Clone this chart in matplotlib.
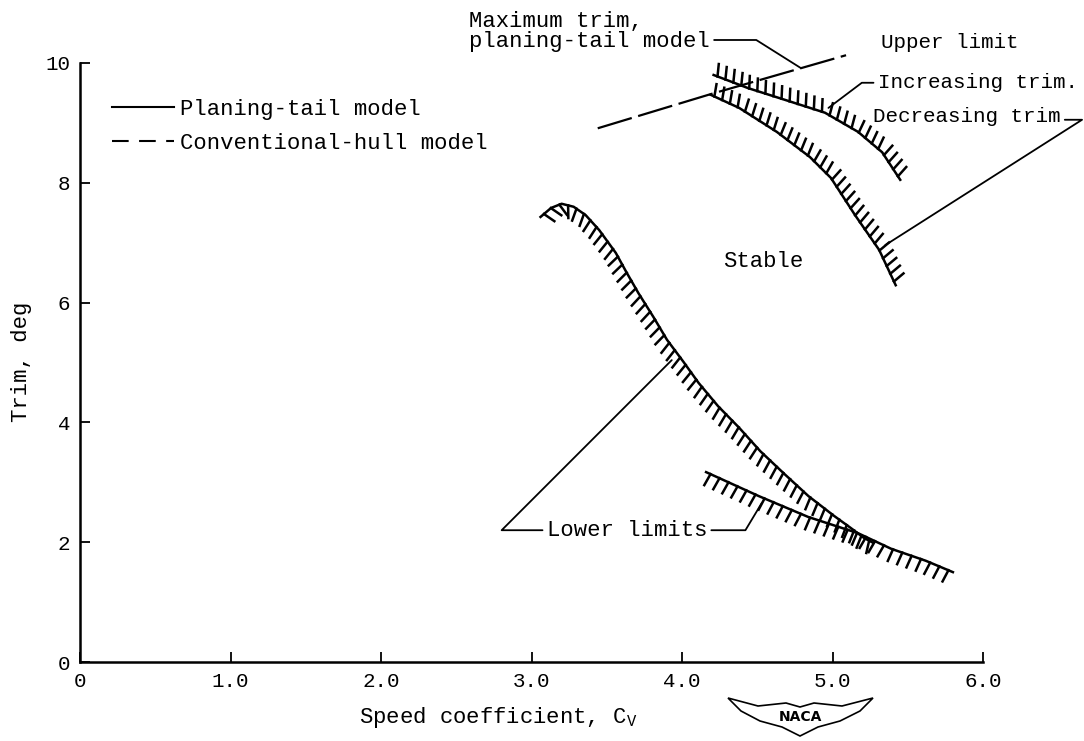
import matplotlib
matplotlib.use("Agg")
import matplotlib.pyplot as plt
from matplotlib import patheffects
from matplotlib.lines import Line2D
from matplotlib.patches import Polygon

# ---------------- data ----------------
# lower limit, upper branch
lowA_cv = [3.06, 3.13, 3.20, 3.28, 3.36, 3.45, 3.56, 3.63, 3.71, 3.81, 3.90, 4.01,
           4.11, 4.24, 4.38, 4.52, 4.68, 4.84, 5.01, 5.12, 5.21, 5.27]
lowA_trim = [7.43, 7.58, 7.65, 7.60, 7.46, 7.21, 6.83, 6.51, 6.16, 5.76, 5.38, 5.01,
             4.66, 4.27, 3.91, 3.52, 3.14, 2.77, 2.44, 2.24, 2.07, 1.99]
# lower limit, lower branch
lowB_cv = [4.16, 4.51, 4.84, 5.17, 5.39, 5.62, 5.80]
lowB_trim = [3.17, 2.77, 2.42, 2.15, 1.89, 1.69, 1.50]
# upper limit, increasing trim
inc_cv = [4.21, 4.44, 4.69, 4.95, 5.17, 5.33, 5.45]
inc_trim = [9.80, 9.58, 9.38, 9.17, 8.85, 8.51, 8.05]
# upper limit, decreasing trim
dec_cv = [4.19, 4.38, 4.63, 4.85, 4.99, 5.15, 5.31, 5.42]
dec_trim = [9.47, 9.25, 8.85, 8.43, 8.08, 7.46, 6.88, 6.29]
# maximum trim (dashed)
max_cv = [3.44, 4.19, 5.09]
max_trim = [8.91, 9.48, 10.13]

x_ticks = [0, 1, 2, 3, 4, 5, 6]
x_ticklabels = ["0", "1.0", "2.0", "3.0", "4.0", "5.0", "6.0"]
y_ticks = [0, 2, 4, 6, 8, 10]
y_ticklabels = ["0", "2", "4", "6", "8", "10"]

# ---------------- style ----------------
MONO = "Liberation Mono"
FS = 16
FS_R = 15
plt.rcParams["font.family"] = [MONO, "DejaVu Sans Mono"]
plt.rcParams["mathtext.fontset"] = "custom"
plt.rcParams["mathtext.rm"] = MONO
plt.rcParams["mathtext.it"] = MONO
plt.rcParams["font.size"] = FS

W, H = 1084, 741
fig = plt.figure(figsize=(W / 100, H / 100), dpi=100)
ax = fig.add_axes([80 / W, 1 - 662 / H, (983 - 80) / W, (662 - 63) / H])
ax.set_xlim(0, 6)
ax.set_ylim(0, 10)
for s in ("top", "right"):
    ax.spines[s].set_visible(False)
for s in ("left", "bottom"):
    ax.spines[s].set_linewidth(1.8)
ax.set_xticks(x_ticks)
ax.set_xticklabels(x_ticklabels)
ax.set_yticks(y_ticks)
ax.set_yticklabels(y_ticklabels)
ax.tick_params(direction="in", length=7.5, width=1.3, labelsize=15, pad=7)

LW = 1.8
# lower limits: hatch on lower side
ax.plot(lowA_cv, lowA_trim, color="black", lw=LW, clip_on=False,
        path_effects=[patheffects.withTickedStroke(spacing=6.5, angle=-75, length=1.4)])
ax.plot(lowB_cv, lowB_trim, color="black", lw=LW, clip_on=False,
        path_effects=[patheffects.withTickedStroke(spacing=7, angle=-95, length=1.3)])
# upper limits: hatch on upper side
ax.plot(inc_cv, inc_trim, color="black", lw=LW, clip_on=False,
        path_effects=[patheffects.withTickedStroke(spacing=6, angle=105, length=1.5)])
ax.plot(dec_cv, dec_trim, color="black", lw=LW, clip_on=False,
        path_effects=[patheffects.withTickedStroke(spacing=6, angle=105, length=1.5)])
# maximum trim, dashed
ax.plot(max_cv, max_trim, color="black", lw=1.6, linestyle=(0, (16, 3)), clip_on=False)

# legend
handles = [Line2D([], [], color="black", lw=1.5),
           Line2D([], [], color="black", lw=1.5, linestyle=(0, (8, 5)))]
ax.legend(handles, ["Planing-tail model", "Conventional-hull model"],
          loc="upper left", bbox_to_anchor=(0.035, 0.94), frameon=False,
          handlelength=2.8, handletextpad=0.3, labelspacing=0.58,
          borderpad=0, borderaxespad=0, fontsize=FS)

ap = dict(arrowstyle="-", color="black", lw=1.3, shrinkA=1, shrinkB=0)

ax.annotate("Maximum trim,\nplaning-tail model", xy=(4.79, 9.915), xytext=(2.586, 10.52),
            ha="left", va="center", linespacing=0.92, annotation_clip=False,
            arrowprops=dict(ap, relpos=(1.0, 0.3),
                            connectionstyle="angle,angleA=0,angleB=147.8,rad=0"))
ax.text(5.325, 10.35, "Upper limit", ha="left", va="center", clip_on=False, fontsize=FS_R)
ax.annotate("Increasing trim.", xy=(4.973, 9.25), xytext=(5.30, 9.67),
            ha="left", va="center", annotation_clip=False, fontsize=FS_R,
            arrowprops=dict(ap, relpos=(0.0, 0.5),
                            connectionstyle="angle,angleA=180,angleB=37,rad=0"))
ax.annotate("Decreasing trim", xy=(5.351, 6.96), xytext=(5.27, 9.10),
            ha="left", va="center", annotation_clip=False, fontsize=FS_R,
            arrowprops=dict(ap, relpos=(1.0, 0.35),
                            connectionstyle="angle,angleA=0,angleB=32.5,rad=0"))
ax.text(4.542, 6.68, "Stable", ha="center", va="center")
ax.annotate("Lower limits", xy=(3.932, 5.04), xytext=(3.634, 2.20),
            ha="center", va="center", annotation_clip=False,
            arrowprops=dict(ap, relpos=(0.0, 0.5),
                            connectionstyle="angle,angleA=180,angleB=45,rad=0"))
ax.annotate("Lower limits", xy=(4.529, 2.65), xytext=(3.634, 2.20),
            ha="center", va="center", color="none", annotation_clip=False,
            arrowprops=dict(ap, relpos=(1.0, 0.5),
                            connectionstyle="angle,angleA=0,angleB=59,rad=0"))

# axis labels
fig.text(22 / W, 1 - 362 / H, "Trim, deg", rotation=90, ha="center", va="center", fontsize=FS)
fig.text(498 / W, 1 - 717 / H, r"Speed coefficient, C$_{\mathrm{V}}$", ha="center", va="center",
         fontsize=FS)

# NACA emblem
wing = [(728, 698), (758, 706), (786, 703), (800, 707), (814, 703), (842, 706), (873, 698),
        (860, 711), (840, 721), (818, 727), (800, 736), (782, 727), (760, 721), (741, 711)]
fig.patches.append(Polygon([(x / W, 1 - y / H) for x, y in wing], closed=True,
                           facecolor="white", edgecolor="black", lw=1.2,
                           transform=fig.transFigure))
fig.text(800 / W, 1 - 717 / H, "NACA", ha="center", va="center", fontsize=10,
         family="DejaVu Sans", fontweight="bold")

fig.savefig("out.png", dpi=100)
